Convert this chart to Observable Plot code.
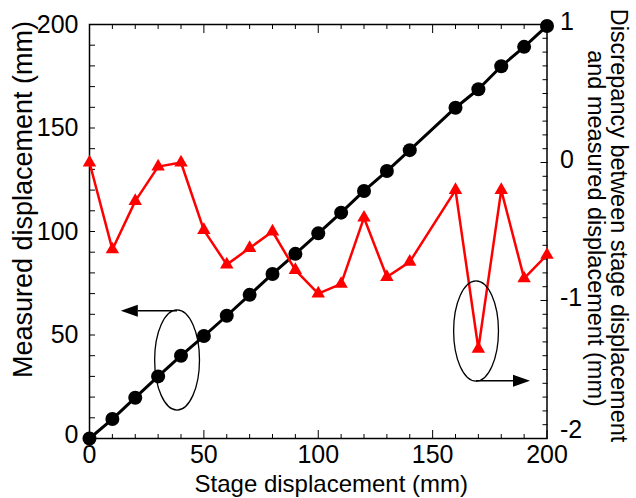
<!DOCTYPE html>
<html><head><meta charset="utf-8">
<script src="https://cdn.jsdelivr.net/npm/d3@7"></script>
<script src="https://cdn.jsdelivr.net/npm/@observablehq/plot@0.6"></script>
<style>body{margin:0;background:#fff;} svg{display:block}</style>
</head><body><div id="chart"></div>
<script>
// ---- data ----
const stage = [0,10,20,30,40,50,60,70,80,90,100,110,120,130,140,160,170,180,190,200];
const measured = [0,9.4,19.7,30.0,40.0,49.5,59.3,69.4,79.5,89.2,99.1,109.1,119.6,129.2,139.3,159.8,168.7,179.8,189.2,199.3];
const discrepancy = [0,-0.63,-0.28,-0.03,0,-0.49,-0.74,-0.62,-0.5,-0.78,-0.95,-0.88,-0.4,-0.83,-0.72,-0.2,-1.35,-0.2,-0.84,-0.67];
const xTickLabels = [0,50,100,150,200];
const leftTickLabels = [0,50,100,150,200];
const rightTickLabels = [-2,-1,0,1];
const rightDomain = [-2,1];
const xTitle = "Stage displacement (mm)";
const leftTitle = "Measured displacement (mm)";
const rightTitle1 = "Discrepancy between stage displacement";
const rightTitle2 = "and measured displacement (mm)";
// annotation ellipses: centres (stage, measured units), arrow tip x and arrow y
const ellipseCX = [38.5, 169.2];
const ellipseCY = [37.7, 51.7];
const arrowTipX = [13.9, 192.8];
const arrowY = [61.5, 27.7];

// ---- helpers ----
const toLeft = d => (d - rightDomain[0]) / (rightDomain[1] - rightDomain[0]) * 200;
const fromLeft = v => Math.round(v / 200 * (rightDomain[1] - rightDomain[0]) + rightDomain[0]);
const rows = stage.map((s, i) => ({stage: s, measured: measured[i], disc: toLeft(discrepancy[i])}));
const font = "Liberation Sans, Arial, Helvetica, sans-serif";

function annotations(index, scales) {
  const {x, y} = scales;
  const g = d3.create("svg:g");
  const rx = Math.abs(x(9.8) - x(0)), ry = Math.abs(y(24.2) - y(0));
  for (let i = 0; i < ellipseCX.length; ++i) {
    const cx = x(ellipseCX[i]), cy = y(ellipseCY[i]);
    g.append("ellipse").attr("cx", cx).attr("cy", cy).attr("rx", rx).attr("ry", ry)
      .attr("fill", "none").attr("stroke", "black").attr("stroke-width", 1.3);
    const ay = y(arrowY[i]), tx = x(arrowTipX[i]);
    const dir = Math.sign(tx - cx);
    const head = 17, hw = 6;
    g.append("line").attr("x1", cx).attr("y1", ay).attr("x2", tx - dir * head).attr("y2", ay)
      .attr("stroke", "black").attr("stroke-width", 1.5);
    g.append("path").attr("d", `M${tx},${ay}L${tx - dir*head},${ay - hw}L${tx - dir*head},${ay + hw}Z`)
      .attr("fill", "black");
  }
  return g.node();
}

const chart = Plot.plot({
  width: 636, height: 498,
  marginLeft: 89, marginRight: 89.5, marginTop: 24, marginBottom: 60,
  style: {fontFamily: font, fontSize: "24px", background: "white", color: "black"},
  x: {domain: [0, 200]},
  y: {domain: [0, 200]},
  marks: [
    // inward ticks
    Plot.axisX({anchor: "bottom", ticks: d3.range(0, 201, 10).filter(v => v % 50), tickSize: -4, tickFormat: () => "", label: null}),
    Plot.axisX({anchor: "bottom", ticks: d3.range(0, 201, 50), tickSize: -8, tickFormat: () => "", label: null}),
    Plot.axisX({anchor: "top", ticks: d3.range(0, 201, 10).filter(v => v % 50), tickSize: -4, tickFormat: () => "", label: null}),
    Plot.axisX({anchor: "top", ticks: d3.range(0, 201, 50), tickSize: -8, tickFormat: () => "", label: null}),
    Plot.axisY({anchor: "left", ticks: d3.range(0, 201, 10), tickSize: -6, tickFormat: () => "", label: null}),
    Plot.axisY({anchor: "right", ticks: d3.range(-20, 11).filter(i => i % 10).map(i => toLeft(i / 10)), tickSize: -5, tickFormat: () => "", label: null}),
    Plot.axisY({anchor: "right", ticks: rightTickLabels.map(toLeft), tickSize: -7, tickFormat: () => "", label: null}),
    // tick labels
    Plot.axisX({anchor: "bottom", ticks: xTickLabels, tickSize: 0, tickPadding: 7, fontSize: 25, label: null}),
    Plot.axisY({anchor: "left", ticks: leftTickLabels.slice(1), tickSize: 0, tickPadding: 11, fontSize: 25, label: null}),
    Plot.axisY({anchor: "left", ticks: leftTickLabels.slice(0, 1), tickSize: 0, tickPadding: 11, dy: -4, fontSize: 25, label: null}),
    Plot.axisY({anchor: "right", ticks: rightTickLabels.slice(1).map(toLeft), tickSize: 0, tickPadding: 13, dy: -3, fontSize: 25,
      tickFormat: v => String(fromLeft(v)), label: null}),
    Plot.axisY({anchor: "right", ticks: rightTickLabels.slice(0, 1).map(toLeft), tickSize: 0, tickPadding: 13, dy: -9, fontSize: 25,
      tickFormat: v => String(fromLeft(v)), label: null}),
    Plot.frame({stroke: "black", strokeWidth: 1.5}),
    // titles
    Plot.text([xTitle], {frameAnchor: "bottom", text: d => d, textAnchor: "middle", dx: 13, dy: 53, lineAnchor: "bottom", fontSize: 24}),
    Plot.text([leftTitle], {frameAnchor: "left", text: d => d, textAnchor: "middle", rotate: -90, dx: -58, dy: -32, lineAnchor: "bottom", fontSize: 27}),
    Plot.text([rightTitle1], {frameAnchor: "right", text: d => d, textAnchor: "middle", rotate: 90, dx: 64, dy: -6, lineAnchor: "bottom", fontSize: 23.5}),
    Plot.text([rightTitle2], {frameAnchor: "right", text: d => d, textAnchor: "middle", rotate: 90, dx: 41, dy: -3, lineAnchor: "bottom", fontSize: 23.5}),
    // data
    Plot.line(rows, {x: "stage", y: "measured", stroke: "black", strokeWidth: 3}),
    Plot.dot(rows, {x: "stage", y: "measured", r: 7, fill: "black"}),
    Plot.line(rows, {x: "stage", y: "disc", stroke: "red", strokeWidth: 2.5}),
    Plot.dot(rows, {x: "stage", y: "disc", symbol: "triangle", r: 5, fill: "red"}),
    annotations
  ]
});
document.getElementById("chart").append(chart);
</script>
</body></html>
